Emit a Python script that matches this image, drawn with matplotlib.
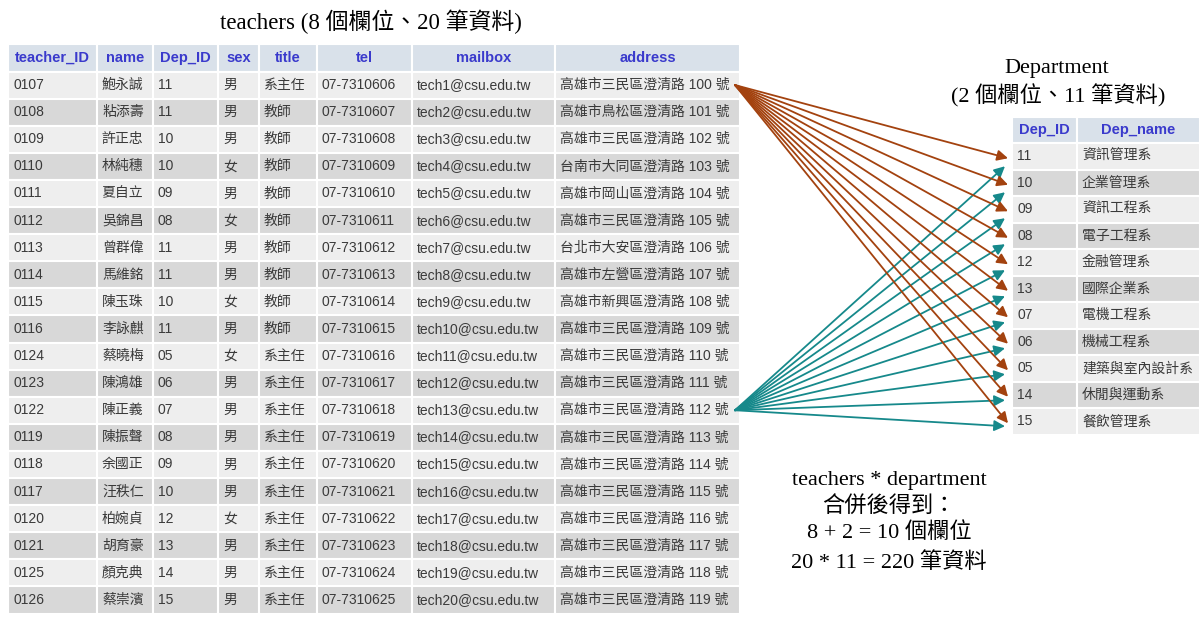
import matplotlib.pyplot as plt
from matplotlib.patches import Rectangle

# teachers table
t_cols = ["teacher_ID", "name", "Dep_ID", "sex", "title", "tel", "mailbox", "address"]
teacher_id = ["0107", "0108", "0109", "0110", "0111", "0112", "0113", "0114", "0115", "0116",
              "0124", "0123", "0122", "0119", "0118", "0117", "0120", "0121", "0125", "0126"]
names = ["鮑永誠", "粘添壽", "許正忠", "林純穗", "夏自立", "吳錦昌", "曾群偉", "馬維銘", "陳玉珠", "李詠麒",
         "蔡曉梅", "陳鴻雄", "陳正義", "陳振聲", "余國正", "汪秩仁", "柏婉貞", "胡育豪", "顏克典", "蔡崇濱"]
dep_ids = ["11", "11", "10", "10", "09", "08", "11", "11", "10", "11",
           "05", "06", "07", "08", "09", "10", "12", "13", "14", "15"]
sex = ["男", "男", "男", "女", "男", "女", "男", "男", "女", "男",
       "女", "男", "男", "男", "男", "男", "女", "男", "男", "男"]
titles = ["系主任"] + ["教師"] * 9 + ["系主任"] * 10
tel = ["07-73106%02d" % n for n in range(6, 26)]
mailbox = ["tech%d@csu.edu.tw" % n for n in range(1, 21)]
districts = ["高雄市三民區", "高雄市鳥松區", "高雄市三民區", "台南市大同區", "高雄市岡山區", "高雄市三民區",
             "台北市大安區", "高雄市左營區", "高雄市新興區"] + ["高雄市三民區"] * 11
address = ["%s澄清路 %d 號" % (d, 100 + i) for i, d in enumerate(districts)]

# department table
d_cols = ["Dep_ID", "Dep_name"]
dept_id = ["11", "10", "09", "08", "12", "13", "07", "06", "05", "14", "15"]
dept_name = ["資訊管理系", "企業管理系", "資訊工程系", "電子工程系", "金融管理系", "國際企業系",
             "電機工程系", "機械工程系", "建築與室內設計系", "休閒與運動系", "餐飲管理系"]

sans = ["Liberation Sans", "Noto Sans CJK TC"]
serif = ["Liberation Serif", "Noto Sans CJK TC"]

fig = plt.figure(figsize=(12, 6.19), dpi=100)
ax = fig.add_axes([0, 0, 1, 1])
ax.set_xlim(0, 1200)
ax.set_ylim(619, 0)
ax.axis("off")

HEAD_C = "#d9e1ea"
LIGHT = "#eeeeee"
DARK = "#d8d8d8"
HEAD_TXT = "#3a3acc"
TXT = "#3a3a3a"


def draw_table(x_edges, y_top, head_h, row_h, headers, columns):
    # header
    for j, h in enumerate(headers):
        x0, x1 = x_edges[j], x_edges[j + 1]
        ax.add_patch(Rectangle((x0, y_top), x1 - x0, head_h, facecolor=HEAD_C,
                               edgecolor="white", lw=1.5))
        ax.text((x0 + x1) / 2, y_top + head_h / 2, h, ha="center", va="center",
                fontsize=10.5, fontweight="bold", color=HEAD_TXT, family=sans)
    centers = []
    for i in range(len(columns[0])):
        y0 = y_top + head_h + i * row_h
        fc = LIGHT if i % 2 == 0 else DARK
        for j, col in enumerate(columns):
            x0, x1 = x_edges[j], x_edges[j + 1]
            ax.add_patch(Rectangle((x0, y0), x1 - x0, row_h, facecolor=fc,
                                   edgecolor="white", lw=1.5))
            ax.text(x0 + 5, y0 + row_h / 2, col[i], ha="left", va="center",
                    fontsize=10, color=TXT, family=sans)
        centers.append(y0 + row_h / 2)
    return centers


t_edges = [8, 97, 153, 218, 259, 317, 412, 555, 740]
t_centers = draw_table(t_edges, 44, 27.5, 27.1, t_cols,
                       [teacher_id, names, dep_ids, sex, titles, tel, mailbox, address])

d_edges = [1012, 1077, 1200]
d_centers = draw_table(d_edges, 117, 26, 26.5, d_cols, [dept_id, dept_name])

# arrows: teacher 0107 (brown) and teacher 0122 (teal) to every department row
BROWN = "#a3420f"
TEAL = "#16898b"
src_brown = (735, t_centers[0])
src_teal = (735, t_centers[teacher_id.index("0122")])
for k, yc in enumerate(d_centers):
    ax.annotate("", xy=(1008, yc + 2), xytext=src_brown,
                arrowprops=dict(arrowstyle="-|>", color=BROWN, lw=1.3,
                                mutation_scale=16, shrinkA=0, shrinkB=0))
    ax.annotate("", xy=(1005, yc + 10 - 0.5 * k), xytext=src_teal,
                arrowprops=dict(arrowstyle="-|>", color=TEAL, lw=1.3,
                                mutation_scale=16, shrinkA=0, shrinkB=0))

# titles and notes
ax.text(371, 22, "teachers (8 個欄位、20 筆資料)", ha="center", va="center",
        fontsize=16.5, family=serif, color="black")
ax.text(1057, 69, "Department", ha="center", va="center", fontsize=16, family=serif)
ax.text(1058, 96, "(2 個欄位、11 筆資料)", ha="center", va="center", fontsize=16, family=serif)

note_lines = ["teachers * department", "合併後得到：", "8 + 2 = 10 個欄位", "20 * 11 = 220 筆資料"]
note_y = [481, 507, 533, 563]
for s, y in zip(note_lines, note_y):
    ax.text(889, y, s, ha="center", va="center", fontsize=16, family=serif)

fig.savefig("out.png", dpi=100)
